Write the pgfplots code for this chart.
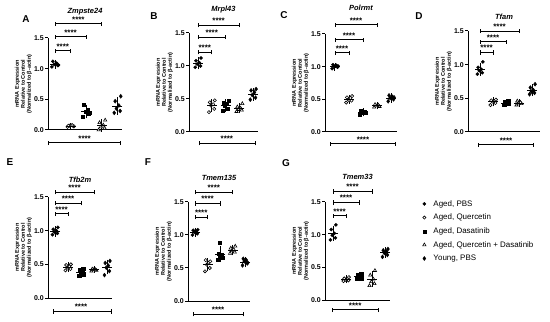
\documentclass[border=0pt]{standalone}
\usepackage{fontspec}
\setmainfont{Liberation Sans}
\usepackage{pgfplots}
\pgfplotsset{compat=1.18}
\pgfplotsset{
 panel/.style={
   scale only axis, anchor=south west, clip=false,
   ymin=0, ymax=1.5, enlargelimits=false,
   axis x line*=bottom, axis y line*=left,
   axis line style={line width=1bp, -},
   xtick=\empty, ytick={0,0.5,1,1.5}, yticklabels={0.0,0.5,1.0,1.5},
   tick align=outside, major tick length=3bp, tick style={line width=1bp, black},
   yticklabel style={font=\fontsize{7}{8}\bfseries\selectfont, inner sep=1bp},
   ylabel={mRNA Expression\\Relative to Control\\(Normalized to β-actin)},
   ylabel style={align=center, font=\fontsize{5.5}{6}\bfseries\selectfont, inner sep=1bp},
   every axis title shift=0pt,
   title style={font=\fontsize{7.5}{8}\bfseries\itshape\selectfont, at={(0.5,1)}, anchor=center},
 },
 s1/.style={only marks, mark=*, mark size=1.6bp, black},
 s2/.style={only marks, mark=*, mark size=1.6bp, black, mark options={fill=white, line width=0.6bp}},
 s3/.style={only marks, mark=square*, mark size=1.5bp, black},
 s4/.style={only marks, mark=triangle*, mark size=1.9bp, black, mark options={fill=white, line width=0.6bp}},
 s5/.style={only marks, mark=diamond*, mark size=2bp, black},
 meanbar/.style={only marks, black, mark=-, mark size=5bp, mark options={line width=1bp},
   error bars/y dir=both, error bars/y explicit, error bars/error bar style={line width=0.9bp},
   error bars/error mark options={mark size=2.6bp, line width=0.9bp}},
}
\newcommand{\sig}[4]{%
  \draw[line width=0.9bp] (axis cs:#1,#4) -- (axis cs:#2,#4);
  \draw[line width=0.9bp] ([yshift=-2.2bp]axis cs:#1,#4) -- ([yshift=2.2bp]axis cs:#1,#4);
  \draw[line width=0.9bp] ([yshift=-2.2bp]axis cs:#2,#4) -- ([yshift=2.2bp]axis cs:#2,#4);
  \node[font=\fontsize{8}{8}\bfseries\selectfont, anchor=south, inner sep=0.5bp, yshift=1bp] at (axis cs:#3,#4) {****};
}
\newcommand{\letter}[3]{\node[font=\fontsize{10}{10}\bfseries\selectfont] at (#1bp,#2bp) {#3};}
\begin{document}
\begin{tikzpicture}
\useasboundingbox (0,0) rectangle (550bp,322bp);
% ---------------- A
\begin{axis}[panel, at={(48bp,192bp)}, width=74bp, height=92bp, xmin=0.55, xmax=5.3,
  title={Zmpste24}, title style={yshift=26bp}]
\addplot[s1] coordinates {(0.8,1.03)(1.18,1.05)(0.94,1.07)(1.1,1.09)(0.86,1.12)(1.22,1.06)};
\addplot[s2] coordinates {(1.8,0.05)(2.18,0.06)(1.94,0.07)(2.1,0.08)(1.86,0.07)(2.22,0.06)};
\addplot[s3] coordinates {(2.8,0.22)(3.18,0.27)(2.94,0.30)(3.1,0.33)(2.86,0.42)(3.22,0.28)};
\addplot[s4] coordinates {(3.8,0.00)(4.18,0.03)(3.94,0.05)(4.1,0.08)(3.86,0.12)(4.22,0.16)};
\addplot[s5] coordinates {(4.8,0.28)(5.18,0.31)(4.94,0.35)(5.1,0.40)(4.86,0.47)(5.22,0.55)};
\addplot[meanbar] coordinates {(1,1.07)+-(0,0.03) (2,0.065)+-(0,0.01) (3,0.30)+-(0,0.07) (4,0.07)+-(0,0.06) (5,0.39)+-(0,0.10)};
\sig{1}{2}{1.5}{1.29}\sig{1}{3}{2}{1.52}\sig{1}{4}{2.5}{1.73}
\sig{0.55}{5.2}{2.9}{-0.21}
\end{axis}
% ---------------- B
\begin{axis}[panel, at={(189bp,190bp)}, width=69bp, height=99bp, xmin=0.35, xmax=5.36,
  title={Mrpl43}, title style={yshift=23bp}]
\addplot[s1] coordinates {(0.8,0.98)(1.18,1.00)(0.94,1.03)(1.1,1.05)(0.86,1.08)(1.22,1.12)};
\addplot[s2] coordinates {(1.8,0.30)(2.18,0.35)(1.94,0.40)(2.1,0.42)(1.86,0.45)(2.22,0.48)};
\addplot[s3] coordinates {(2.8,0.32)(3.18,0.36)(2.94,0.40)(3.1,0.43)(2.86,0.45)(3.22,0.47)};
\addplot[s4] coordinates {(3.8,0.31)(4.18,0.33)(3.94,0.34)(4.1,0.36)(3.86,0.38)(4.22,0.43)};
\addplot[s5] coordinates {(4.8,0.49)(5.18,0.52)(4.94,0.56)(5.1,0.60)(4.86,0.63)(5.22,0.65)};
\addplot[meanbar] coordinates {(1,1.04)+-(0,0.05) (2,0.40)+-(0,0.06) (3,0.40)+-(0,0.06) (4,0.36)+-(0,0.04) (5,0.57)+-(0,0.06)};
\sig{1}{2}{1.5}{1.21}\sig{1}{3}{2}{1.44}\sig{1}{4}{2.5}{1.62}
\sig{1.08}{5.15}{3.1}{-0.17}
\end{axis}
% ---------------- C
\begin{axis}[panel, at={(325bp,190bp)}, width=72bp, height=98bp, xmin=0.29, xmax=5.43,
  title={Polrmt}, title style={yshift=26bp}]
\addplot[s1] coordinates {(0.8,0.97)(1.18,0.99)(0.94,1.00)(1.1,1.02)(0.86,1.03)(1.22,1.01)};
\addplot[s2] coordinates {(1.8,0.45)(2.18,0.48)(1.94,0.50)(2.1,0.52)(1.86,0.53)(2.22,0.55)(2.0,0.49)};
\addplot[s3] coordinates {(2.8,0.27)(3.18,0.29)(2.94,0.30)(3.1,0.31)(2.86,0.32)(3.22,0.30)};
\addplot[s4] coordinates {(3.8,0.38)(4.18,0.39)(3.94,0.40)(4.1,0.41)(3.86,0.42)};
\addplot[s5] coordinates {(4.8,0.47)(5.18,0.50)(4.94,0.52)(5.1,0.54)(4.86,0.56)(5.22,0.53)};
\addplot[meanbar] coordinates {(1,1.00)+-(0,0.02) (2,0.50)+-(0,0.03) (3,0.30)+-(0,0.02) (4,0.40)+-(0,0.015) (5,0.52)+-(0,0.03)};
\sig{1}{2}{1.5}{1.21}\sig{1}{3}{2}{1.41}\sig{1}{4}{2.5}{1.64}
\sig{0.65}{5.29}{3}{-0.18}
\end{axis}
% ---------------- D
\begin{axis}[panel, at={(468bp,190bp)}, width=72bp, height=101bp, xmin=0.08, xmax=5.6,
  title={Tfam}, title style={yshift=14bp}]
\addplot[s1] coordinates {(0.8,0.86)(1.18,0.88)(0.94,0.91)(1.1,0.93)(0.86,0.96)(1.22,1.04)};
\addplot[s2] coordinates {(1.8,0.40)(2.18,0.43)(1.94,0.45)(2.1,0.46)(1.86,0.47)(2.22,0.48)};
\addplot[s3] coordinates {(2.8,0.40)(3.18,0.42)(2.94,0.43)(3.1,0.44)(2.86,0.45)(3.22,0.46)};
\addplot[s4] coordinates {(3.8,0.40)(4.18,0.42)(3.94,0.43)(4.1,0.44)(3.86,0.46)};
\addplot[s5] coordinates {(4.8,0.56)(5.18,0.58)(4.94,0.60)(5.1,0.62)(4.86,0.66)(5.22,0.71)};
\addplot[meanbar] coordinates {(1,0.93)+-(0,0.06) (2,0.45)+-(0,0.03) (3,0.43)+-(0,0.02) (4,0.43)+-(0,0.02) (5,0.62)+-(0,0.05)};
\sig{1}{2}{1.5}{1.18}\sig{1}{3}{2}{1.34}\sig{1}{4}{2.5}{1.50}
\sig{0.85}{5.08}{3}{-0.19}
\end{axis}
% ---------------- E
\begin{axis}[panel, at={(48bp,24bp)}, width=64bp, height=101bp, xmin=0.46, xmax=5.38,
  title={Tfb2m}, title style={yshift=17bp}]
\addplot[s1] coordinates {(0.8,0.94)(1.18,0.96)(0.94,0.98)(1.1,1.00)(0.86,1.02)(1.22,1.05)};
\addplot[s2] coordinates {(1.8,0.41)(2.18,0.43)(1.94,0.45)(2.1,0.47)(1.86,0.49)(2.22,0.50)};
\addplot[s3] coordinates {(2.8,0.33)(3.18,0.35)(2.94,0.37)(3.1,0.39)(2.86,0.42)(3.22,0.44)};
\addplot[s4] coordinates {(3.8,0.40)(4.18,0.41)(3.94,0.42)(4.1,0.42)(3.86,0.43)};
\addplot[s5] coordinates {(4.8,0.34)(5.18,0.40)(4.94,0.45)(5.1,0.48)(4.86,0.52)(5.22,0.55)};
\addplot[meanbar] coordinates {(1,0.99)+-(0,0.04) (2,0.46)+-(0,0.03) (3,0.38)+-(0,0.04) (4,0.42)+-(0,0.01) (5,0.46)+-(0,0.07)};
\sig{1}{2}{1.5}{1.25}\sig{1}{3}{2}{1.41}\sig{1}{4}{2.5}{1.57}
\sig{0.85}{5.31}{3}{-0.2}
\end{axis}
% ---------------- F
\begin{axis}[panel, at={(188bp,21bp)}, width=62bp, height=99bp, xmin=0.44, xmax=5.4,
  title={Tmem135}, title style={yshift=24bp}]
\addplot[s1] coordinates {(0.8,1.00)(1.18,1.02)(0.94,1.04)(1.1,1.05)(0.86,1.07)(1.22,1.08)};
\addplot[s2] coordinates {(1.8,0.45)(2.18,0.50)(1.94,0.55)(2.1,0.58)(1.86,0.62)(2.22,0.60)};
\addplot[s3] coordinates {(2.8,0.62)(3.18,0.65)(2.94,0.68)(3.1,0.70)(2.86,0.72)(3.0,0.88)};
\addplot[s4] coordinates {(3.8,0.72)(4.18,0.74)(3.94,0.76)(4.1,0.78)(3.86,0.80)(4.22,0.83)};
\addplot[s5] coordinates {(4.8,0.54)(5.18,0.57)(4.94,0.60)(5.1,0.62)(4.86,0.64)(5.22,0.58)};
\addplot[meanbar] coordinates {(1,1.04)+-(0,0.03) (2,0.55)+-(0,0.06) (3,0.71)+-(0,0.08) (4,0.77)+-(0,0.04) (5,0.59)+-(0,0.04)};
\sig{1}{2}{1.5}{1.27}\sig{1}{3}{2}{1.48}\sig{1}{4}{2.5}{1.65}
\sig{0.84}{4.84}{2.85}{-0.2}
\end{axis}
% ---------------- G
\begin{axis}[panel, at={(325bp,22bp)}, width=65bp, height=98bp, xmin=0.38, xmax=5.38,
  title={Tmem33}, title style={yshift=25bp},
  legend style={at={(axis description cs:1.5,1.035)}, anchor=north west, draw=none, fill=none,
    font=\fontsize{8}{9}\selectfont, row sep=3.4bp, column sep=6bp, inner sep=0pt, nodes={inner sep=1.5bp}},
  legend cell align=left]
\addplot[s1] coordinates {(0.8,0.92)(1.18,0.95)(0.94,0.99)(1.1,1.02)(0.86,1.08)(1.22,1.15)};
\addlegendentry{Aged, PBS}
\addplot[s2] coordinates {(1.8,0.29)(2.18,0.30)(1.94,0.31)(2.1,0.32)(1.86,0.33)(2.22,0.35)};
\addlegendentry{Aged, Quercetin}
\addplot[s3] coordinates {(2.8,0.32)(3.18,0.33)(2.94,0.35)(3.1,0.36)(2.86,0.38)(3.22,0.40)};
\addlegendentry{Aged, Dasatinib}
\addplot[s4] coordinates {(3.8,0.22)(4.18,0.25)(3.94,0.28)(4.1,0.32)(3.86,0.38)(4.22,0.45)};
\addlegendentry{Aged, Quercetin + Dasatinib}
\addplot[s5] coordinates {(4.8,0.66)(5.18,0.69)(4.94,0.72)(5.1,0.74)(4.86,0.76)(5.22,0.78)};
\addlegendentry{Young, PBS}
\addplot[forget plot, meanbar] coordinates {(1,1.02)+-(0,0.08) (2,0.32)+-(0,0.02) (3,0.36)+-(0,0.03) (4,0.32)+-(0,0.08) (5,0.73)+-(0,0.04)};
\sig{1}{2}{1.5}{1.29}\sig{1}{3}{2}{1.49}\sig{1}{4}{2.5}{1.66}
\sig{0.92}{4.46}{2.7}{-0.15}
\end{axis}
% panel letters
\letter{26}{303}{A}
\letter{154}{306}{B}
\letter{284}{307}{C}
\letter{419}{306}{D}
\letter{10}{160}{E}
\letter{148}{160}{F}
\letter{286}{159}{G}
\end{tikzpicture}
\end{document}
